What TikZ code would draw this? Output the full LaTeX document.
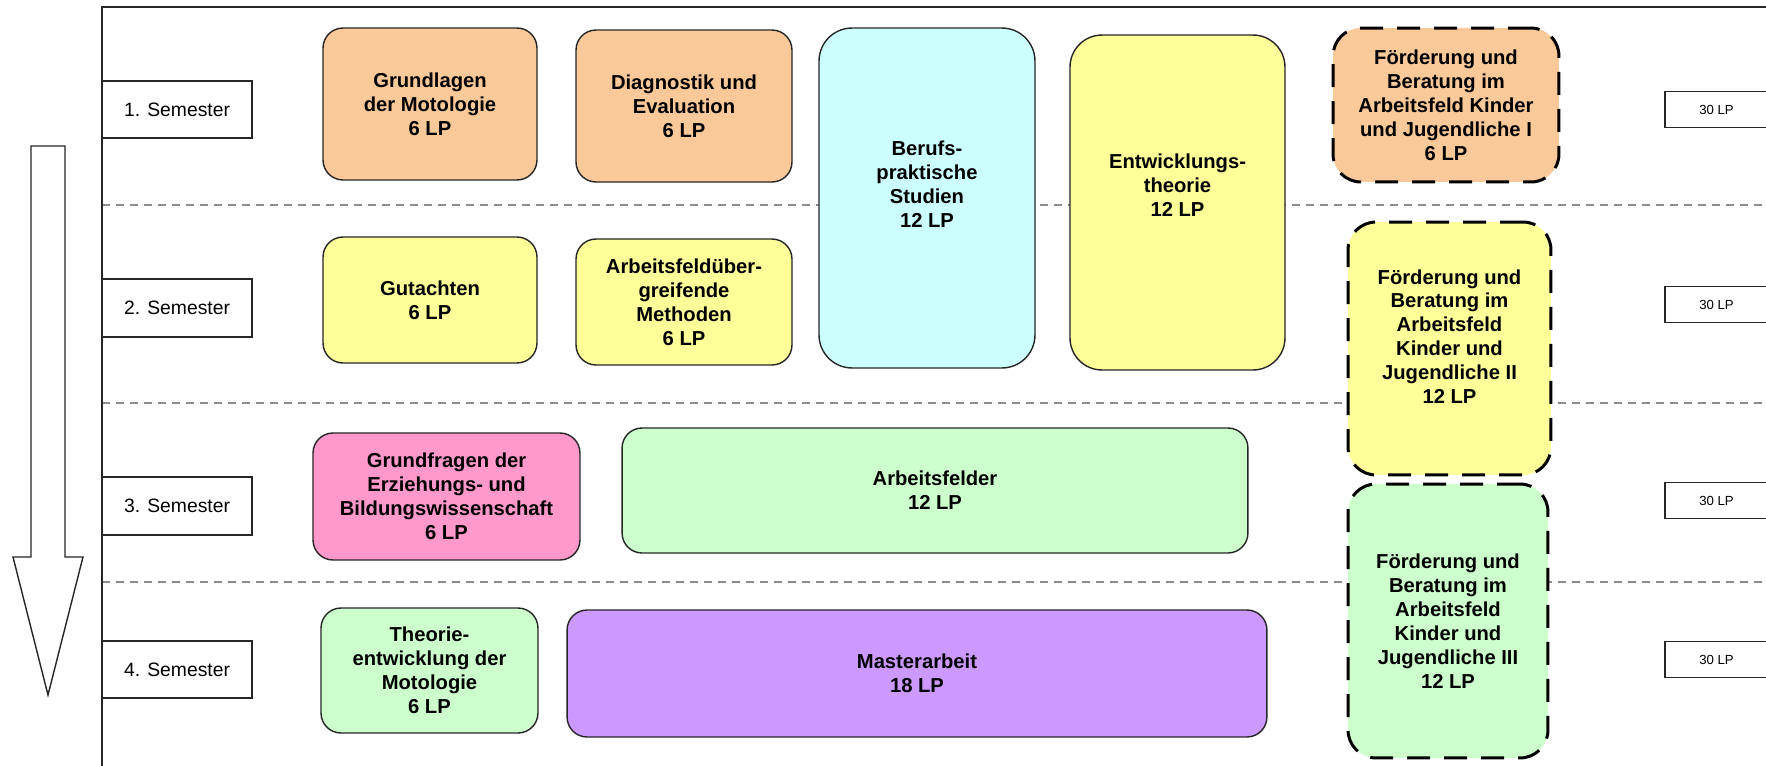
\documentclass[tikz,border=0pt]{standalone}
\usepackage{fontspec}
\setmainfont{Liberation Sans}
\tikzset{modul/.style = {draw = black!85, line width = 0.8pt, rounded corners = 0.4cm,
    align = center, inner sep = 0, font = \bfseries\fontsize{11.5}{13.6}\selectfont}}
\tikzset{foerder/.style = {modul, draw = black, line width = 1.7pt,
    dash pattern = on 0.46cm off 0.28cm, rounded corners = 0.56cm}}
\tikzset{modtext/.style = {align = center, inner sep = 0, font = \bfseries\fontsize{11.5}{13.6}\selectfont}}
\tikzset{sembox/.style = {draw = black!85, fill = white, line width = 0.9pt, inner sep = 0,
    minimum width = 3cm, minimum height = 1.15cm, font = \fontsize{11}{13}\selectfont}}
\tikzset{lpbox/.style = {draw = black!85, fill = white, line width = 0.9pt, inner sep = 0,
    minimum width = 2.06cm, minimum height = 0.72cm, font = \fontsize{7.5}{9}\selectfont}}
\tikzset{trenn/.style = {draw = black!45, line width = 0.6pt, dash pattern = on 0.16cm off 0.12cm}}
\definecolor{morange}{rgb}{0.98, 0.79, 0.6}
\definecolor{mgelb}{rgb}{1, 1, 0.6}
\definecolor{mcyan}{rgb}{0.8, 1, 1}
\definecolor{mrosa}{rgb}{1, 0.6, 0.8}
\definecolor{mgruen}{rgb}{0.8, 1, 0.8}
\definecolor{mlila}{rgb}{0.8, 0.6, 1}

\begin{document}
\begin{tikzpicture}[x = 0.02cm, y = -0.02cm]
    \useasboundingbox (0, 0) rectangle (1766, 765);
    \fill [white] (0, 0) rectangle (1766, 765);

    % Rahmen und Trennlinien
    \foreach \y in {205, 403, 582} {
      \draw [trenn] (102, \y) -- (1766, \y);
    }
    \draw [line width = 0.9pt, black!85] (102, 770) -- (102, 7) -- (1770, 7);

    % Pfeil
    \draw [line width = 0.8pt, black!85] (31, 146) -- (65, 146) -- (65, 557) -- (83, 557)
      -- (48, 695) -- (13, 557) -- (31, 557) -- cycle;

    \foreach \n/\y in {1/109.5, 2/308, 3/506, 4/669.5} {
      \node [sembox] (sem\n) at (177, \y) {\n. Semester};
    }
    \foreach \n/\y in {1/109.5, 2/304.5, 3/500.5, 4/659.5} {
      \node [lpbox] (lp\n) at (1716.5, \y) {30 LP};
    }

    % 1. Semester
    \node [modul, fill = morange, minimum width = 4.28cm, minimum height = 3.04cm]
      (grundlagen) at (430, 104) {Grundlagen\\der Motologie\\6 LP};
    \node [modul, fill = morange, minimum width = 4.32cm, minimum height = 3.04cm]
      (diagnostik) at (684, 106) {Diagnostik und\\Evaluation\\6 LP};
    \node [modul, fill = mcyan, rounded corners = 0.66cm, minimum width = 4.32cm, minimum height = 6.8cm]
      (berufs) at (927, 198) {};
    \node [modtext] (berufstext) at ([yshift = 0.28cm] berufs.center) {Berufs-\\praktische\\Studien\\12 LP};
    \node [modul, fill = mgelb, rounded corners = 0.64cm, minimum width = 4.3cm, minimum height = 6.7cm]
      (entwicklung) at (1177.5, 202.5) {};
    \node [modtext] (entwicklungtext) at ([yshift = 0.35cm] entwicklung.center) {Entwicklungs-\\theorie\\12 LP};
    \node [foerder, fill = morange, minimum width = 4.52cm, minimum height = 3.08cm]
      (foerderI) at (1446, 105) {Förderung und\\Beratung im\\Arbeitsfeld Kinder\\und Jugendliche I\\6 LP};

    % 2. Semester
    \node [modul, fill = mgelb, minimum width = 4.28cm, minimum height = 2.52cm]
      (gutachten) at (430, 300) {Gutachten\\6 LP};
    \node [modul, fill = mgelb, minimum width = 4.32cm, minimum height = 2.52cm]
      (methoden) at (684, 302) {Arbeitsfeldüber-\\greifende\\Methoden\\6 LP};
    \node [foerder, fill = mgelb, minimum width = 4.06cm, minimum height = 5.06cm]
      (foerderII) at (1449.5, 348.5) {};
    \node [modtext] (foerderIItext) at ([yshift = 0.24cm] foerderII.center)
      {Förderung und\\Beratung im\\Arbeitsfeld\\Kinder und\\Jugendliche II\\12 LP};

    % 3. Semester
    \node [modul, fill = mrosa, minimum width = 5.34cm, minimum height = 2.54cm]
      (grundfragen) at (446.5, 496.5) {Grundfragen der\\Erziehungs- und\\Bildungswissenschaft\\6 LP};
    \node [modul, fill = mgruen, minimum width = 12.52cm, minimum height = 2.5cm]
      (arbeitsfelder) at (935, 490.5) {Arbeitsfelder\\12 LP};
    \node [foerder, fill = mgruen, minimum width = 4cm, minimum height = 5.48cm]
      (foerderIII) at (1448, 621) {Förderung und\\Beratung im\\Arbeitsfeld\\Kinder und\\Jugendliche III\\12 LP};

    % 4. Semester
    \node [modul, fill = mgruen, minimum width = 4.34cm, minimum height = 2.5cm]
      (theorie) at (429.5, 670.5) {Theorie-\\entwicklung der\\Motologie\\6 LP};
    \node [modul, fill = mlila, minimum width = 14cm, minimum height = 2.54cm]
      (masterarbeit) at (917, 673.5) {Masterarbeit\\18 LP};
  \end{tikzpicture}
\end{document}
